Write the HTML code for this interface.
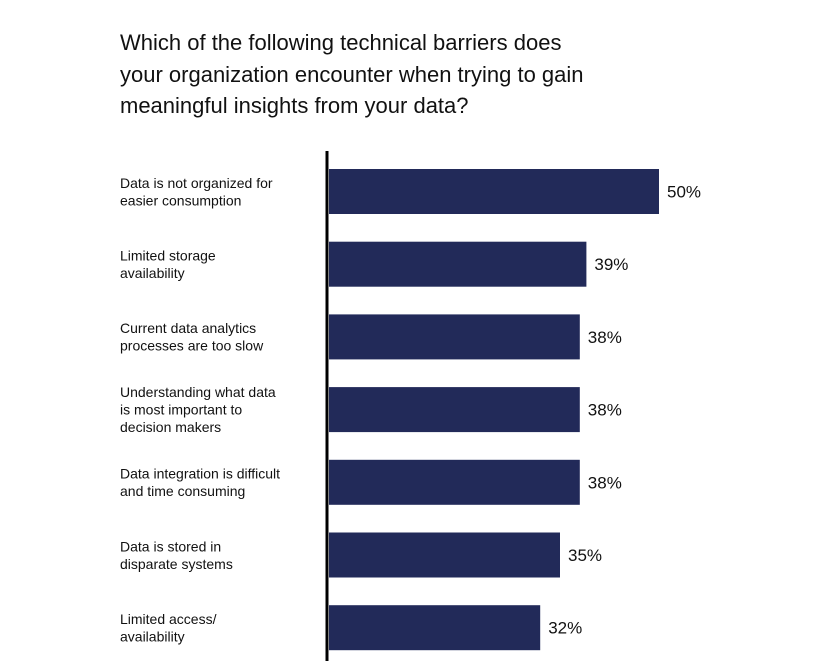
<!DOCTYPE html>
<html><head><meta charset="utf-8"><style>
body{margin:0;background:#fff;width:838px;height:661px;overflow:hidden;font-family:"Liberation Sans",sans-serif;}
#title{position:absolute;left:120px;top:27px;font-size:22px;line-height:31.5px;color:#111;}
</style></head><body>
<div id="title">Which of the following technical barriers does<br>your organization encounter when trying to gain<br>meaningful insights from your data?</div>
<svg id="chart" width="838" height="661" style="position:absolute;left:0;top:0"></svg>
<script>
const categories=[["Data is not organized for","easier consumption"],["Limited storage","availability"],["Current data analytics","processes are too slow"],["Understanding what data","is most important to","decision makers"],["Data integration is difficult","and time consuming"],["Data is stored in","disparate systems"],["Limited access/","availability"]];
const values=[50,39,38,38,38,35,32];
const valueLabels=["50%","39%","38%","38%","38%","35%","32%"];
const svg=document.getElementById('chart');
const NS='http://www.w3.org/2000/svg';
const x0=329,pxPer=6.6,y0=169,step=72.7,bh=45;
const xs=v=>x0+v*pxPer;
const ys=i=>y0+i*step;
values.forEach((v,i)=>{
 const r=document.createElementNS(NS,'rect');
 
 
 r.setAttribute('x',x0);r.setAttribute('y',ys(i));r.setAttribute('width',xs(v)-x0);r.setAttribute('height',bh);r.setAttribute('fill','#222a59');
 svg.appendChild(r);
 const t=document.createElementNS(NS,'text');
 
 
 t.setAttribute('x',xs(v)+8);t.setAttribute('y',ys(i)+bh/2+6);t.setAttribute('font-size','17');t.setAttribute('fill','#111');
 t.textContent=valueLabels[i];svg.appendChild(t);
 const lines=categories[i];
 const lh=17.5;const start=ys(i)+bh/2-(lines.length-1)*lh/2+5;
 const c=document.createElementNS(NS,'text');
 
 
 c.setAttribute('font-size','14');c.setAttribute('fill','#111');
 lines.forEach((s,j)=>{const ts=document.createElementNS(NS,'tspan');ts.setAttribute('x',120);ts.setAttribute('y',start+j*lh);ts.textContent=s;c.appendChild(ts);});
 svg.appendChild(c);
});
const ax=document.createElementNS(NS,'line');


ax.setAttribute('x1',327);ax.setAttribute('x2',327);ax.setAttribute('y1',151);ax.setAttribute('y2',661);ax.setAttribute('stroke','#000');ax.setAttribute('stroke-width','3');
svg.appendChild(ax);
</script>
</body></html>
